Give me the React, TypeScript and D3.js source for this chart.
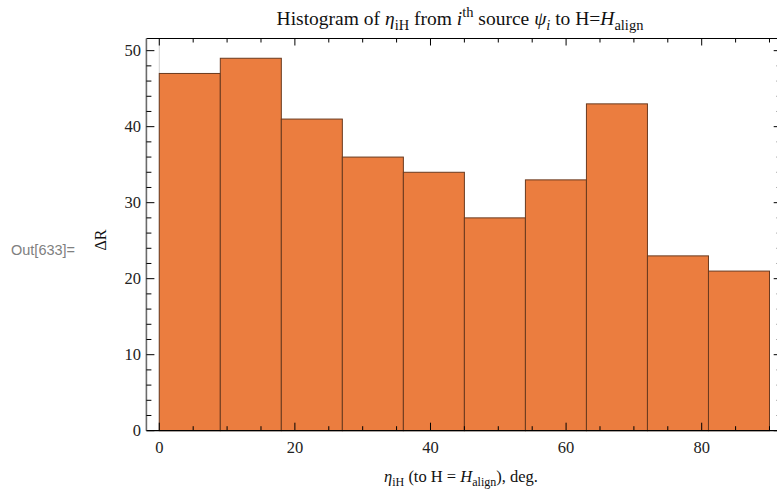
import React from "react";
import * as d3 from "d3";

const binStarts = [0, 9, 18, 27, 36, 45, 54, 63, 72, 81];
const binWidth = 9;
const counts = [47, 49, 41, 36, 34, 28, 33, 43, 23, 21];
const xMajorTicks = [0, 20, 40, 60, 80];
const yMajorTicks = [0, 10, 20, 30, 40, 50];

const W = 777;
const H = 490;
const SERIF = "'Liberation Serif', 'Times New Roman', serif";

export default function App() {
  const left = 146.4;
  const right = 781.7;
  const top = 38.5;
  const bottom = 430.7;
  const x = d3.scaleLinear().domain([-1.9, 91.8]).range([left, right]);
  const y = d3.scaleLinear().domain([0, 51.6]).range([bottom, top]);

  const xMinor = d3.range(0, 91, 5).filter((v) => !xMajorTicks.includes(v));
  const yMinor = d3.range(0, 52, 2).filter((v) => !yMajorTicks.includes(v));

  const sub = 4.5;
  return (
    <svg
      width={W}
      height={H}
      style={{ position: "absolute", left: 0, top: 0, background: "#fff" }}
      fontFamily={SERIF}
    >
      <rect x={0} y={0} width={W} height={H} fill="#fff" />
      <text x={11} y={255} fontFamily="'Liberation Sans', Arial, sans-serif" fontSize={14.5} fill="#808080">
        Out[633]=
      </text>

      {/* x=0 axis line */}
      <line x1={x(0)} x2={x(0)} y1={top} y2={bottom} stroke="#d0d0d0" strokeWidth={1} />

      {/* bars */}
      {binStarts.map((s, i) => (
        <rect
          key={i}
          x={x(s)}
          y={y(counts[i])}
          width={x(s + binWidth) - x(s)}
          height={y(0) - y(counts[i])}
          fill="#EB7D3F"
          stroke="#6a3a1f"
          strokeWidth={1}
        />
      ))}

      {/* frame */}
      <line x1={left} x2={right} y1={top} y2={top} stroke="#000" strokeWidth={1} />
      <line x1={left} x2={right} y1={bottom} y2={bottom} stroke="#000" strokeWidth={1.2} />
      <line x1={left} x2={left} y1={top} y2={bottom} stroke="#6b6b6b" strokeWidth={1.6} />
      <line x1={right} x2={right} y1={top} y2={bottom} stroke="#000" strokeWidth={1} />

      {/* x ticks bottom & top */}
      {xMajorTicks.map((v) => (
        <g key={"xM" + v}>
          <line x1={x(v)} x2={x(v)} y1={bottom} y2={bottom - 8} stroke="#000" />
          <line x1={x(v)} x2={x(v)} y1={top} y2={top + 7} stroke="#000" />
          <text x={x(v)} y={452.5} fontSize={16.5} textAnchor="middle" fill="#222">
            {v}
          </text>
        </g>
      ))}
      {xMinor.map((v) => (
        <g key={"xm" + v}>
          <line x1={x(v)} x2={x(v)} y1={bottom} y2={bottom - 4.5} stroke="#000" />
          <line x1={x(v)} x2={x(v)} y1={top} y2={top + 4} stroke="#000" />
        </g>
      ))}

      {/* y ticks left & right */}
      {yMajorTicks.map((v) => (
        <g key={"yM" + v}>
          <line x1={left} x2={left + 8} y1={y(v)} y2={y(v)} stroke="#000" />
          <line x1={right} x2={right - 8} y1={y(v)} y2={y(v)} stroke="#000" />
          <text x={141} y={y(v) + 5.5} fontSize={16.5} textAnchor="end" fill="#222">
            {v}
          </text>
        </g>
      ))}
      {yMinor.map((v) => (
        <g key={"ym" + v}>
          <line x1={left} x2={left + 5} y1={y(v)} y2={y(v)} stroke="#000" />
          <line x1={right} x2={right - 5} y1={y(v)} y2={y(v)} stroke="#000" />
        </g>
      ))}

      {/* title */}
      <text x={460} y={25} fontSize={19.5} textAnchor="middle" fill="#111">
        <tspan>Histogram of </tspan>
        <tspan fontStyle="italic">η</tspan>
        <tspan dy={sub} fontSize={14.5}>iH</tspan>
        <tspan dy={-sub}> from </tspan>
        <tspan fontStyle="italic">i</tspan>
        <tspan dy={-8} fontSize={14.5}>th</tspan>
        <tspan dy={8}> source </tspan>
        <tspan fontStyle="italic">ψ</tspan>
        <tspan dy={sub} fontSize={14.5} fontStyle="italic">i</tspan>
        <tspan dy={-sub}> to H=</tspan>
        <tspan fontStyle="italic">H</tspan>
        <tspan dy={sub} fontSize={14.5}>align</tspan>
      </text>

      {/* x label */}
      <text x={461} y={482} fontSize={16.5} textAnchor="middle" fill="#111">
        <tspan fontStyle="italic">η</tspan>
        <tspan dy={3.5} fontSize={12}>iH</tspan>
        <tspan dy={-3.5}> (to H = </tspan>
        <tspan fontStyle="italic">H</tspan>
        <tspan dy={3.5} fontSize={12}>align</tspan>
        <tspan dy={-3.5}>), deg.</tspan>
      </text>

      {/* y label */}
      <text
        transform={`translate(106,240) rotate(-90)`}
        fontSize={16}
        textAnchor="middle"
        fill="#111"
      >
        ΔR
      </text>
    </svg>
  );
}
